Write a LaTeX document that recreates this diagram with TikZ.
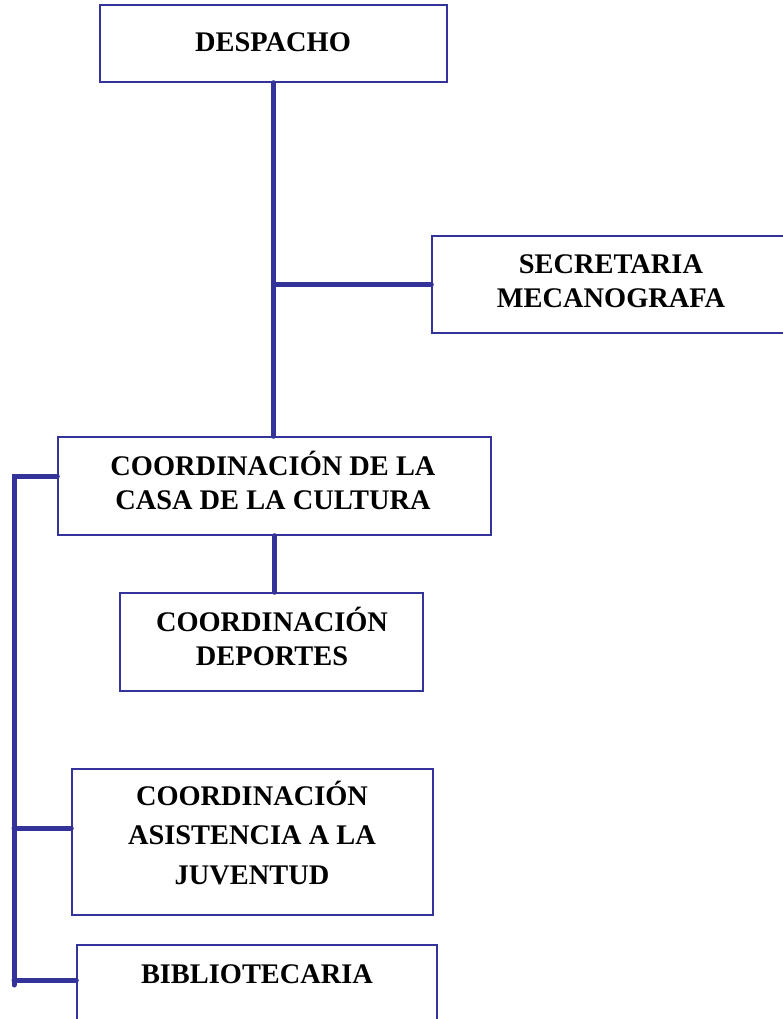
\documentclass[tikz,border=0pt]{standalone}
\usepackage{fontspec}
\setmainfont{Liberation Serif}
\definecolor{orgblue}{RGB}{51,51,153}
\tikzset{
  orgbox/.style={draw=orgblue, line width=1.4pt, fill=white, inner sep=0pt},
  orgtext/.style={anchor=base, align=center, inner sep=0pt,
    font=\fontsize{28.4}{34}\selectfont\bfseries},
  orgline/.style={draw=orgblue, line width=5pt, line cap=round}
}
\begin{document}
\begin{tikzpicture}[x=1pt,y=-1pt]
\useasboundingbox (0,0) rectangle (783,1019);
% boxes
\node[orgbox, minimum width=347pt, minimum height=77pt] (despacho) at (273.5,43.5) {};
\node[orgbox, minimum width=356pt, minimum height=97pt] (secre) at (610,284.5) {};
\node[orgbox, minimum width=433pt, minimum height=98pt] (casa) at (274.5,486) {};
\node[orgbox, minimum width=303pt, minimum height=98pt] (deportes) at (271.5,642) {};
\node[orgbox, minimum width=361pt, minimum height=146pt] (juv) at (252.5,842) {};
\node[orgbox, minimum width=360pt, minimum height=100pt] (bib) at (257,995) {};
% texts (anchored at the baseline of their last line)
\node[orgtext] (despacho-t) at (273,52) {DESPACHO};
\node[orgtext] (secre-t) at (611,307) {SECRETARIA\\MECANOGRAFA};
\node[orgtext] (casa-t) at (273,509) {COORDINACIÓN DE LA\\CASA DE LA CULTURA};
\node[orgtext] (deportes-t) at (272,665) {COORDINACIÓN\\DEPORTES};
\node[orgtext, font=\fontsize{28.4}{39.5}\selectfont\bfseries] (juv-t) at (252,884) {COORDINACIÓN\\ASISTENCIA A LA\\JUVENTUD};
\node[orgtext] (bib-t) at (257,983) {BIBLIOTECARIA};
% connectors
\coordinate (busc) at (14,476);
\coordinate (busj) at (14,828);
\coordinate (busb) at (14,980);
\coordinate (busend) at (14,985);
\draw[orgline] (despacho.south) -- (despacho.south |- casa.north);
\draw[orgline] (secre.west) -- (secre.west -| despacho.south);
\draw[orgline] (casa.south) -- (casa.south |- deportes.north);
\draw[orgline] (busc -| casa.west) -- (busc) -- (busend);
\draw[orgline] (busj) -- (busj -| juv.west);
\draw[orgline] (busb) -- (busb -| bib.west);
\end{tikzpicture}
\end{document}
